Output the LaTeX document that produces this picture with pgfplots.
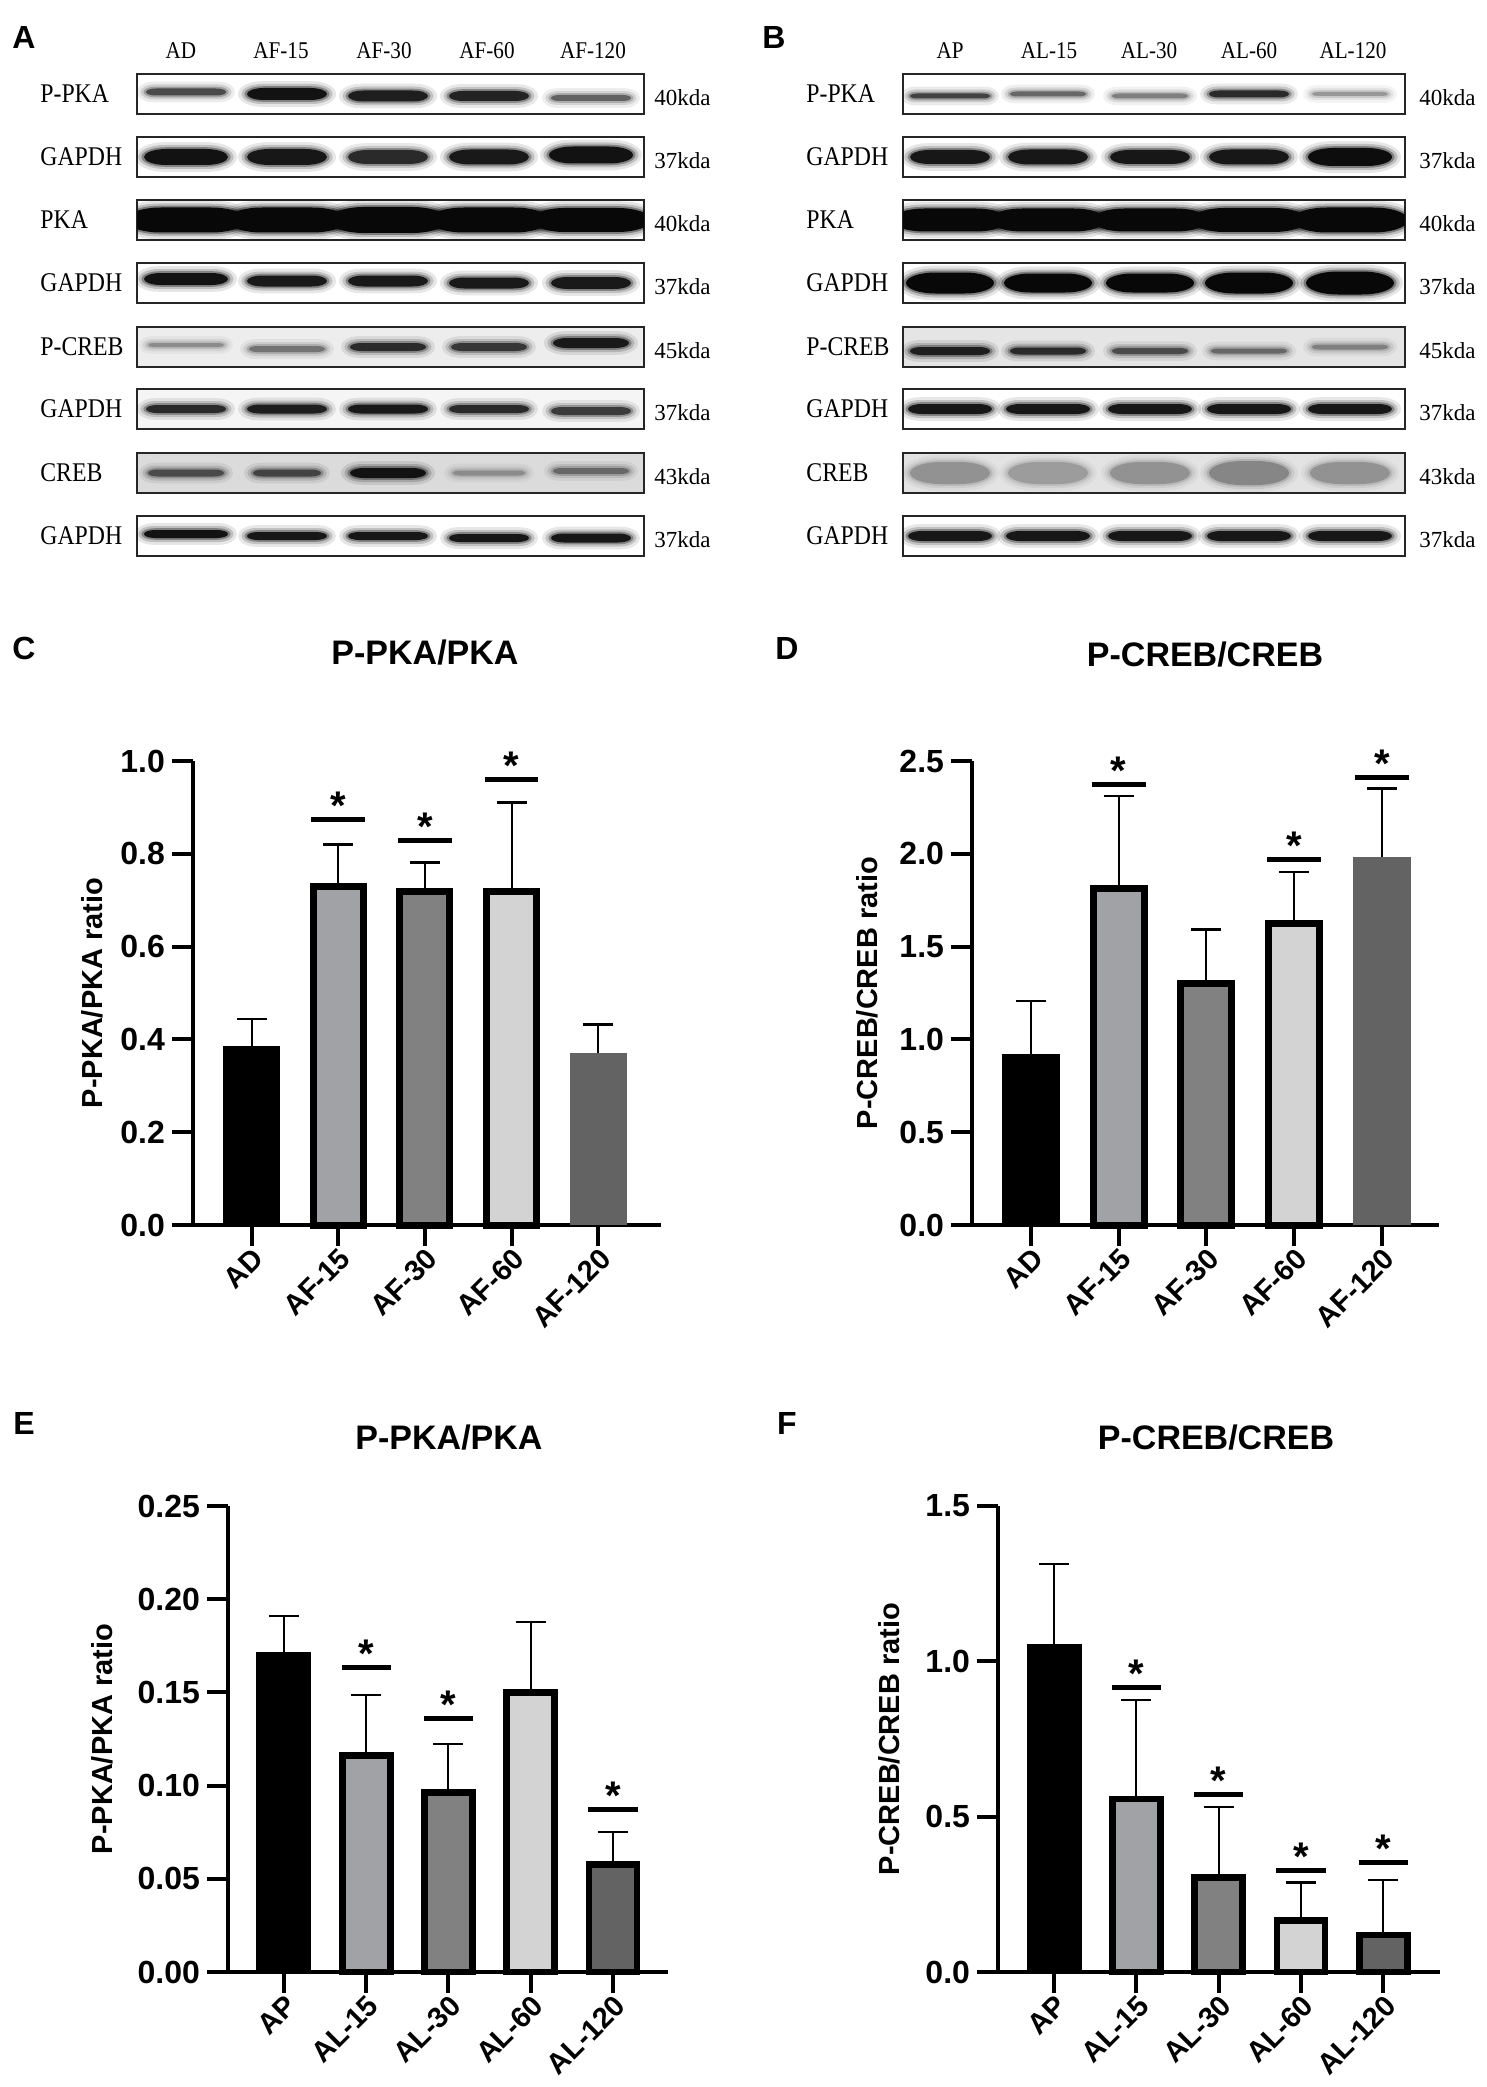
\documentclass[border=0pt]{standalone}
\usepackage{fontspec}
\setmainfont{Liberation Serif}
\setsansfont{Liberation Sans}
\newfontfamily\blotfont{Liberation Serif}[FakeStretch=0.88]
\usepackage{pgfplots}
\pgfplotsset{compat=1.18}

\definecolor{gA}{HTML}{A1A2A6}
\definecolor{gB}{HTML}{808180}
\definecolor{gC}{HTML}{D3D3D3}
\definecolor{gD}{HTML}{636363}

\newcommand{\tickf}{\sffamily\bfseries\fontsize{16}{17}\selectfont}
\newcommand{\labf}{\sffamily\bfseries\fontsize{14.5}{15}\selectfont}
\newcommand{\titf}{\sffamily\bfseries\fontsize{17}{19}\selectfont}
\newcommand{\letf}{\sffamily\bfseries\fontsize{16}{17}\selectfont}
\newcommand{\starf}{\sffamily\bfseries\fontsize{20}{20}\selectfont}
\newcommand{\rowf}{\blotfont\fontsize{13.5}{14}\selectfont}
\newcommand{\lanef}{\blotfont\fontsize{12}{13}\selectfont}
\newcommand{\kdaf}{\rmfamily\fontsize{11.5}{12}\selectfont}

% blot band: bar with elliptical ends
\pgfdeclareplotmark{band}{%
  \pgfmathsetmacro\bA{\bandw-\bandcx}%
  \pgfmathsetmacro\bK{\bandw-0.4477*\bandcx}%
  \pgfmathsetmacro\bKy{0.5523*\bandr}%
  \pgfpathmoveto{\pgfpoint{-\bA pt}{-\bandr pt}}%
  \pgfpathlineto{\pgfpoint{\bA pt}{-\bandr pt}}%
  \pgfpathcurveto{\pgfpoint{\bK pt}{-\bandr pt}}{\pgfpoint{\bandw pt}{-\bKy pt}}{\pgfpoint{\bandw pt}{0pt}}%
  \pgfpathcurveto{\pgfpoint{\bandw pt}{\bKy pt}}{\pgfpoint{\bK pt}{\bandr pt}}{\pgfpoint{\bA pt}{\bandr pt}}%
  \pgfpathlineto{\pgfpoint{-\bA pt}{\bandr pt}}%
  \pgfpathcurveto{\pgfpoint{-\bK pt}{\bandr pt}}{\pgfpoint{-\bandw pt}{\bKy pt}}{\pgfpoint{-\bandw pt}{0pt}}%
  \pgfpathcurveto{\pgfpoint{-\bandw pt}{-\bKy pt}}{\pgfpoint{-\bK pt}{-\bandr pt}}{\pgfpoint{-\bA pt}{-\bandr pt}}%
  \pgfpathclose
  \pgfusepathqfill}

\pgfplotsset{
  blot/.style={scale only axis, height=20pt, anchor=north west,
    ymin=0, ymax=1, xtick=\empty, ytick=\empty,
    axis line style={line width=1.3pt, draw=black!85},
    clip=true, clip marker paths=true,
    colormap={bw}{gray(0cm)=(0.97); gray(1cm)=(0.03)},
    point meta min=0, point meta max=1},
  bandlayer/.style n args={3}{scatter, only marks, mark=band, point meta=\thisrow{m},
    visualization depends on={0.25*\thisrow{h}+#1 \as \bandr},
    visualization depends on={min(0.7*\thisrow{h}+#1, \thisrow{w}) \as \bandcx},
    visualization depends on={\thisrow{w}+#2 \as \bandw},
    scatter/use mapped color={draw=none, fill=mapped color, fill opacity=#3}},
  gp/.style={scale only axis, anchor=south west, ymin=0,
    axis x line*=bottom, axis y line*=left,
    axis line style={line width=2pt, black, -},
    x axis line style={shorten <=-10.5pt},
    tick align=outside, major tick length=10.5pt,
    tick style={line width=2pt, black},
    xtick={0,1,2,3,4},
    yticklabel style={font=\tickf},
    xticklabel style={font=\labf, rotate=45, anchor=north east, inner sep=0pt},
    clip=false},
  sig/.style={line width=2.5pt, black},
  stars/.style={only marks, mark=none, nodes near coords={*},
    every node near coord/.append style={font=\starf, anchor=base, inner sep=0pt}},
  errs/.style={draw=none, mark=none,
    error bars/y dir=plus, error bars/y explicit,
    error bars/error mark=-,
    error bars/error bar style={draw=black, line width=1pt},
    error bars/error mark options={draw=black, rotate=90, line width=1.2pt, mark size=7.5pt}}
}

\newcommand{\bandplots}[1]{%
    \addplot[bandlayer={3.4}{4.5}{0.10}] table[row sep=\\]{#1};
    \addplot[bandlayer={2.0}{2.8}{0.18}] table[row sep=\\]{#1};
    \addplot[bandlayer={0.9}{1.3}{0.35}] table[row sep=\\]{#1};
    \addplot[bandlayer={0}{0}{1}] table[row sep=\\]{#1};}
\newcommand{\blotA}[3]{%
  \begin{axis}[blot, at={(68.5pt,#1pt)}, width=253.5pt, xmin=137, xmax=644,
      axis background/.style={fill=#2}]
    \bandplots{#3}
  \end{axis}}
\newcommand{\blotB}[3]{%
  \begin{axis}[blot, at={(451.5pt,#1pt)}, width=251pt, xmin=903, xmax=1405,
      axis background/.style={fill=#2}]
    \bandplots{#3}
  \end{axis}}

\begin{document}
\begin{tikzpicture}[x=0.5pt, y=-0.5pt]
\path[use as bounding box] (0,0) rectangle (1487,2087);

% ---------------- panel letters
\node[font=\letf] at (24,37) {A};
\node[font=\letf] at (774,37) {B};
\node[font=\letf] at (24,648) {C};
\node[font=\letf] at (787,648) {D};
\node[font=\letf] at (24,1423) {E};
\node[font=\letf] at (787,1423) {F};

% ---------------- blot A
\foreach \t/\x in {AD/181, AF-15/281, AF-30/384, AF-60/487, AF-120/593}
  \node[font=\lanef] at (\x,51) {\t};
\foreach \t/\k/\y in {P-PKA/40kda/94, GAPDH/37kda/157, PKA/40kda/220, GAPDH/37kda/283,
    P-CREB/45kda/347, GAPDH/37kda/409, CREB/43kda/473, GAPDH/37kda/536}{
  \node[font=\rowf, anchor=west, inner sep=0pt] at (40,\y) {\t};
  \node[font=\kdaf, anchor=west, inner sep=0pt] at (654,\y+4) {\k};
}
\blotA{-37}{white}{x y m h w\\ 186 0.55 0.72 7 20\\ 287 0.5 0.95 12 20\\ 388 0.45 0.9 11 20\\ 489 0.45 0.88 10 20\\ 591 0.4 0.62 6 20\\}
\blotA{-68.5}{white}{x y m h w\\ 186 0.5 0.95 16 21\\ 287 0.5 0.93 16 20\\ 388 0.5 0.85 14 20\\ 489 0.5 0.92 15 20\\ 591 0.55 0.95 17 21\\}
\blotA{-100}{white}{x y m h w\\ 186 0.5 1 25 30\\ 287 0.5 1 25 30\\ 388 0.5 1 26 30\\ 489 0.5 1 25 30\\ 591 0.5 1 24 30\\}
\blotA{-131.5}{white}{x y m h w\\ 186 0.6 0.95 12 21\\ 287 0.55 0.92 11 20\\ 388 0.55 0.92 11 20\\ 489 0.5 0.92 11 20\\ 591 0.5 0.92 12 20\\}
\blotA{-163.5}{black!7}{x y m h w\\ 186 0.55 0.45 4 19\\ 287 0.45 0.55 6 19\\ 388 0.5 0.85 8 19\\ 489 0.5 0.8 8 19\\ 591 0.6 0.92 10 19\\}
\blotA{-194.5}{black!4}{x y m h w\\ 186 0.5 0.85 8 20\\ 287 0.5 0.9 9 20\\ 388 0.5 0.92 9 20\\ 489 0.5 0.85 8 20\\ 591 0.45 0.78 8 20\\}
\blotA{-226.5}{black!14}{x y m h w\\ 186 0.5 0.72 7 19\\ 287 0.5 0.75 7 17\\ 388 0.5 0.95 10 19\\ 489 0.5 0.45 5 18\\ 591 0.55 0.6 6 19\\}
\blotA{-258}{white}{x y m h w\\ 186 0.55 0.95 8 21\\ 287 0.5 0.93 8 20\\ 388 0.5 0.93 8 20\\ 489 0.45 0.93 8 20\\ 591 0.45 0.93 9 20\\}

% ---------------- blot B
\foreach \t/\x in {AP/950, AL-15/1049, AL-30/1149, AL-60/1249, AL-120/1353}
  \node[font=\lanef] at (\x,51) {\t};
\foreach \t/\k/\y in {P-PKA/40kda/94, GAPDH/37kda/157, PKA/40kda/220, GAPDH/37kda/283,
    P-CREB/45kda/347, GAPDH/37kda/409, CREB/43kda/473, GAPDH/37kda/536}{
  \node[font=\rowf, anchor=west, inner sep=0pt] at (806,\y) {\t};
  \node[font=\kdaf, anchor=west, inner sep=0pt] at (1419,\y+4) {\k};
}
\blotB{-37}{white}{x y m h w\\ 950 0.45 0.75 5 20\\ 1048 0.5 0.6 5 19\\ 1150 0.45 0.5 5 19\\ 1249 0.5 0.85 7 20\\ 1350 0.5 0.4 4 19\\}
\blotB{-68.5}{white}{x y m h w\\ 950 0.5 0.93 14 20\\ 1048 0.5 0.93 15 20\\ 1150 0.5 0.93 14 20\\ 1249 0.5 0.93 15 20\\ 1350 0.5 0.97 18 21\\}
\blotB{-100}{white}{x y m h w\\ 950 0.5 1 23 29\\ 1048 0.5 1 23 29\\ 1150 0.5 1 23 29\\ 1249 0.5 1 24 29\\ 1350 0.5 1 25 29\\}
\blotB{-131.5}{white}{x y m h w\\ 950 0.5 1 21 22\\ 1048 0.5 1 19 22\\ 1150 0.5 1 19 22\\ 1249 0.5 1 21 22\\ 1350 0.5 1 23 22\\}
\blotB{-163.5}{black!10}{x y m h w\\ 950 0.4 0.9 8 20\\ 1048 0.4 0.85 7 19\\ 1150 0.4 0.72 6 19\\ 1249 0.4 0.6 5 19\\ 1350 0.5 0.5 5 19\\}
\blotB{-194.5}{white}{x y m h w\\ 950 0.5 0.93 10 21\\ 1048 0.5 0.93 10 21\\ 1150 0.5 0.93 10 21\\ 1249 0.5 0.93 10 21\\ 1350 0.5 0.93 10 21\\}
\blotB{-226.5}{black!11}{x y m h w\\ 950 0.5 0.42 22 20\\ 1048 0.5 0.38 22 20\\ 1150 0.5 0.42 22 20\\ 1249 0.5 0.47 24 20\\ 1350 0.5 0.42 22 20\\}
\blotB{-258}{white}{x y m h w\\ 950 0.5 0.93 10 21\\ 1048 0.5 0.93 10 21\\ 1150 0.5 0.93 10 21\\ 1249 0.5 0.93 10 21\\ 1350 0.5 0.93 10 21\\}

% ---------------- titles and y labels
\node[font=\titf] at (425,653) {P-PKA/PKA};
\node[font=\titf] at (1205,655) {P-CREB/CREB};
\node[font=\titf] at (449,1438) {P-PKA/PKA};
\node[font=\titf] at (1216,1438) {P-CREB/CREB};
\node[font=\labf, rotate=90] at (92,993) {P-PKA/PKA ratio};
\node[font=\labf, rotate=90] at (867,993) {P-CREB/CREB ratio};
\node[font=\labf, rotate=90] at (102,1739) {P-PKA/PKA ratio};
\node[font=\labf, rotate=90] at (889,1739) {P-CREB/CREB ratio};

% ---------------- C
\begin{axis}[gp, at={(96.5pt,-612.5pt)}, width=233.8pt, height=232pt,
  xmin=-0.675, xmax=4.72, ymax=1.0,
  ytick={0,0.2,0.4,0.6,0.8,1.0}, yticklabels={0.0,0.2,0.4,0.6,0.8,1.0},
  xticklabels={AD,AF-15,AF-30,AF-60,AF-120}]
\addplot[ybar, bar shift=0pt, bar width=28.5pt, fill=black, draw=none] coordinates {(0,0.385)};
\addplot[ybar, bar shift=0pt, bar width=25pt, fill=gA, draw=black, line width=3.5pt] coordinates {(1,0.729)};
\addplot[ybar, bar shift=0pt, bar width=25pt, fill=gB, draw=black, line width=3.5pt] coordinates {(2,0.718)};
\addplot[ybar, bar shift=0pt, bar width=25pt, fill=gC, draw=black, line width=3.5pt] coordinates {(3,0.719)};
\addplot[ybar, bar shift=0pt, bar width=28.5pt, fill=gD, draw=none] coordinates {(4,0.370)};
\addplot[errs] coordinates {(0,0.385) +- (0,0.0596) (1,0.729) +- (0,0.091) (2,0.718) +- (0,0.063) (3,0.719) +- (0,0.192) (4,0.370) +- (0,0.062)};
\addplot[sig] coordinates {(0.69,0.875) (1.31,0.875)};
\addplot[sig] coordinates {(1.69,0.829) (2.31,0.829)};
\addplot[sig] coordinates {(2.69,0.960) (3.31,0.960)};
\addplot[stars] coordinates {(1,0.875) (2,0.829) (3,0.960)};
\end{axis}

% ---------------- D
\begin{axis}[gp, at={(486pt,-612.5pt)}, width=233.5pt, height=232pt,
  xmin=-0.672, xmax=4.65, ymax=2.5,
  ytick={0,0.5,1,1.5,2,2.5}, yticklabels={0.0,0.5,1.0,1.5,2.0,2.5},
  xticklabels={AD,AF-15,AF-30,AF-60,AF-120}]
\addplot[ybar, bar shift=0pt, bar width=29pt, fill=black, draw=none] coordinates {(0,0.920)};
\addplot[ybar, bar shift=0pt, bar width=25.5pt, fill=gA, draw=black, line width=3.5pt] coordinates {(1,1.811)};
\addplot[ybar, bar shift=0pt, bar width=25.5pt, fill=gB, draw=black, line width=3.5pt] coordinates {(2,1.300)};
\addplot[ybar, bar shift=0pt, bar width=25.5pt, fill=gC, draw=black, line width=3.5pt] coordinates {(3,1.622)};
\addplot[ybar, bar shift=0pt, bar width=29pt, fill=gD, draw=none] coordinates {(4,1.985)};
\addplot[errs] coordinates {(0,0.920) +- (0,0.286) (1,1.811) +- (0,0.502) (2,1.300) +- (0,0.292) (3,1.622) +- (0,0.281) (4,1.985) +- (0,0.366)};
\addplot[sig] coordinates {(0.69,2.376) (1.31,2.376)};
\addplot[sig] coordinates {(2.69,1.968) (3.31,1.968)};
\addplot[sig] coordinates {(3.69,2.410) (4.31,2.410)};
\addplot[stars] coordinates {(1,2.376) (3,1.968) (4,2.410)};
\end{axis}

% ---------------- E
\begin{axis}[gp, at={(114pt,-986pt)}, width=220pt, height=233pt,
  xmin=-0.681, xmax=4.67, ymax=0.25,
  ytick={0,0.05,0.10,0.15,0.20,0.25}, yticklabels={0.00,0.05,0.10,0.15,0.20,0.25},
  xticklabels={AP,AL-15,AL-30,AL-60,AL-120}]
\addplot[ybar, bar shift=0pt, bar width=27.5pt, fill=black, draw=none] coordinates {(0,0.1716)};
\addplot[ybar, bar shift=0pt, bar width=24pt, fill=gA, draw=black, line width=3.4pt] coordinates {(1,0.116)};
\addplot[ybar, bar shift=0pt, bar width=24pt, fill=gB, draw=black, line width=3.4pt] coordinates {(2,0.0963)};
\addplot[ybar, bar shift=0pt, bar width=24pt, fill=gC, draw=black, line width=3.4pt] coordinates {(3,0.150)};
\addplot[ybar, bar shift=0pt, bar width=24pt, fill=gD, draw=black, line width=3.4pt] coordinates {(4,0.0577)};
\addplot[errs] coordinates {(0,0.1716) +- (0,0.0194) (1,0.116) +- (0,0.0327) (2,0.0963) +- (0,0.0261) (3,0.150) +- (0,0.0378) (4,0.0577) +- (0,0.0173)};
\addplot[sig] coordinates {(0.70,0.1635) (1.30,0.1635)};
\addplot[sig] coordinates {(1.70,0.136) (2.30,0.136)};
\addplot[sig] coordinates {(3.70,0.0873) (4.30,0.0873)};
\addplot[stars] coordinates {(1,0.1635) (2,0.136) (4,0.0873)};
\end{axis}

% ---------------- F
\begin{axis}[gp, at={(499pt,-986pt)}, width=221pt, height=233pt,
  xmin=-0.681, xmax=4.69, ymax=1.5,
  ytick={0,0.5,1,1.5}, yticklabels={0.0,0.5,1.0,1.5},
  xticklabels={AP,AL-15,AL-30,AL-60,AL-120}]
\addplot[ybar, bar shift=0pt, bar width=27.5pt, fill=black, draw=none] coordinates {(0,1.057)};
\addplot[ybar, bar shift=0pt, bar width=24pt, fill=gA, draw=black, line width=3.4pt] coordinates {(1,0.557)};
\addplot[ybar, bar shift=0pt, bar width=24pt, fill=gB, draw=black, line width=3.4pt] coordinates {(2,0.303)};
\addplot[ybar, bar shift=0pt, bar width=24pt, fill=gC, draw=black, line width=3.4pt] coordinates {(3,0.166)};
\addplot[ybar, bar shift=0pt, bar width=24pt, fill=gD, draw=black, line width=3.4pt] coordinates {(4,0.119)};
\addplot[errs] coordinates {(0,1.057) +- (0,0.256) (1,0.557) +- (0,0.318) (2,0.303) +- (0,0.229) (3,0.166) +- (0,0.122) (4,0.119) +- (0,0.177)};
\addplot[sig] coordinates {(0.70,0.916) (1.30,0.916)};
\addplot[sig] coordinates {(1.70,0.572) (2.30,0.572)};
\addplot[sig] coordinates {(2.70,0.327) (3.30,0.327)};
\addplot[sig] coordinates {(3.70,0.351) (4.30,0.351)};
\addplot[stars] coordinates {(1,0.916) (2,0.572) (3,0.327) (4,0.351)};
\end{axis}
\end{tikzpicture}
\end{document}
